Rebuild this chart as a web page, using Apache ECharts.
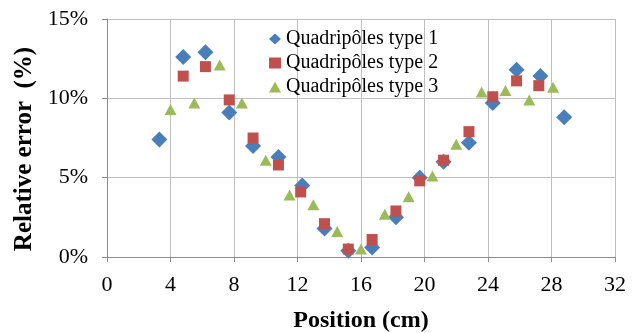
<!DOCTYPE html>
<html>
<head>
<meta charset="utf-8">
<script src="https://cdn.jsdelivr.net/npm/echarts@6/dist/echarts.min.js"></script>
<style>
  html, body { margin: 0; padding: 0; background: #fff; }
  #chart { width: 644px; height: 333px; }
</style>
</head>
<body>
<div id="chart"></div>
<script>
// positions (cm) and relative error (%)
const seriesNames = ["Quadripôles type 1", "Quadripôles type 2", "Quadripôles type 3"];
const pos1 = [3.3, 4.8, 6.2, 7.7, 9.2, 10.8, 12.3, 13.7, 15.2, 16.7, 18.2, 19.7, 21.2, 22.8, 24.3, 25.8, 27.3, 28.8];
const err1 = [7.4, 12.6, 12.9, 9.1, 7.0, 6.3, 4.5, 1.8, 0.4, 0.6, 2.5, 5.0, 6.0, 7.2, 9.7, 11.8, 11.4, 8.8];
const pos2 = [4.8, 6.2, 7.7, 9.2, 10.8, 12.2, 13.7, 15.2, 16.7, 18.2, 19.7, 21.2, 22.8, 24.3, 25.8, 27.2];
const err2 = [11.4, 12.0, 9.9, 7.5, 5.8, 4.1, 2.1, 0.5, 1.1, 2.9, 4.8, 6.1, 7.9, 10.1, 11.1, 10.8];
const pos3 = [4.0, 5.5, 7.1, 8.5, 10.0, 11.5, 13.0, 14.5, 16.0, 17.5, 19.0, 20.5, 22.0, 23.6, 25.1, 26.6, 28.1];
const err3 = [9.3, 9.7, 12.1, 9.7, 6.1, 3.9, 3.3, 1.6, 0.5, 2.7, 3.8, 5.1, 7.1, 10.4, 10.5, 9.9, 10.7];
const xTicks = { min: 0, max: 32, interval: 4 };
const yTicks = { min: 0, max: 15, interval: 5 };

const pair = (xs, ys) => xs.map((x, i) => [x, ys[i]]);

const serif = "Liberation Serif";
const gridColor = "#bfbfbf";
const axisColor = "#8c8c8c";

const chart = echarts.init(document.getElementById("chart"));
chart.setOption({
  animation: false,
  textStyle: { fontFamily: serif },
  grid: { left: 107, right: 29, top: 19, bottom: 76, outerBoundsMode: "none", containLabel: false },
  legend: {
    orient: "vertical",
    left: 264,
    top: 24,
    itemGap: 4,
    itemWidth: 12,
    itemHeight: 11,
    textStyle: { fontFamily: serif, fontSize: 20, color: "#000" },
    data: [
      { name: seriesNames[0], icon: "diamond" },
      { name: seriesNames[1], icon: "rect" },
      { name: seriesNames[2], icon: "triangle" }
    ]
  },
  xAxis: {
    type: "value",
    min: xTicks.min, max: xTicks.max, interval: xTicks.interval,
    name: "Position (cm)",
    nameLocation: "middle",
    nameGap: 52,
    nameTextStyle: { fontFamily: serif, fontSize: 24, fontWeight: "bold", color: "#000" },
    axisLine: { lineStyle: { color: axisColor } },
    axisTick: { show: true, length: 5, lineStyle: { color: axisColor } },
    axisLabel: { fontFamily: serif, fontSize: 22, color: "#000", margin: 17 },
    splitLine: { show: true, lineStyle: { color: gridColor } }
  },
  yAxis: {
    type: "value",
    min: yTicks.min, max: yTicks.max, interval: yTicks.interval,
    name: "Relative error  (%)",
    nameLocation: "middle",
    nameGap: 69,
    nameTextStyle: { fontFamily: serif, fontSize: 25, fontWeight: "bold", color: "#000", padding: [0, 22, 0, 0] },
    axisLine: { show: true, lineStyle: { color: axisColor } },
    axisTick: { show: true, length: 5, lineStyle: { color: axisColor } },
    axisLabel: { fontFamily: serif, fontSize: 22, color: "#000", margin: 19, formatter: "{value}%" },
    splitLine: { show: true, lineStyle: { color: gridColor } }
  },
  series: [
    {
      name: seriesNames[0], type: "scatter", symbol: "diamond", symbolSize: 16,
      itemStyle: { color: "#4a7ebb", opacity: 1 }, data: pair(pos1, err1), z: 2
    },
    {
      name: seriesNames[1], type: "scatter", symbol: "rect", symbolSize: 11,
      itemStyle: { color: "#c0504d", opacity: 1 }, data: pair(pos2, err2), z: 3
    },
    {
      name: seriesNames[2], type: "scatter", symbol: "triangle", symbolSize: [12, 11],
      itemStyle: { color: "#9bbb59", opacity: 1 }, data: pair(pos3, err3), z: 4
    }
  ]
});
</script>
</body>
</html>
